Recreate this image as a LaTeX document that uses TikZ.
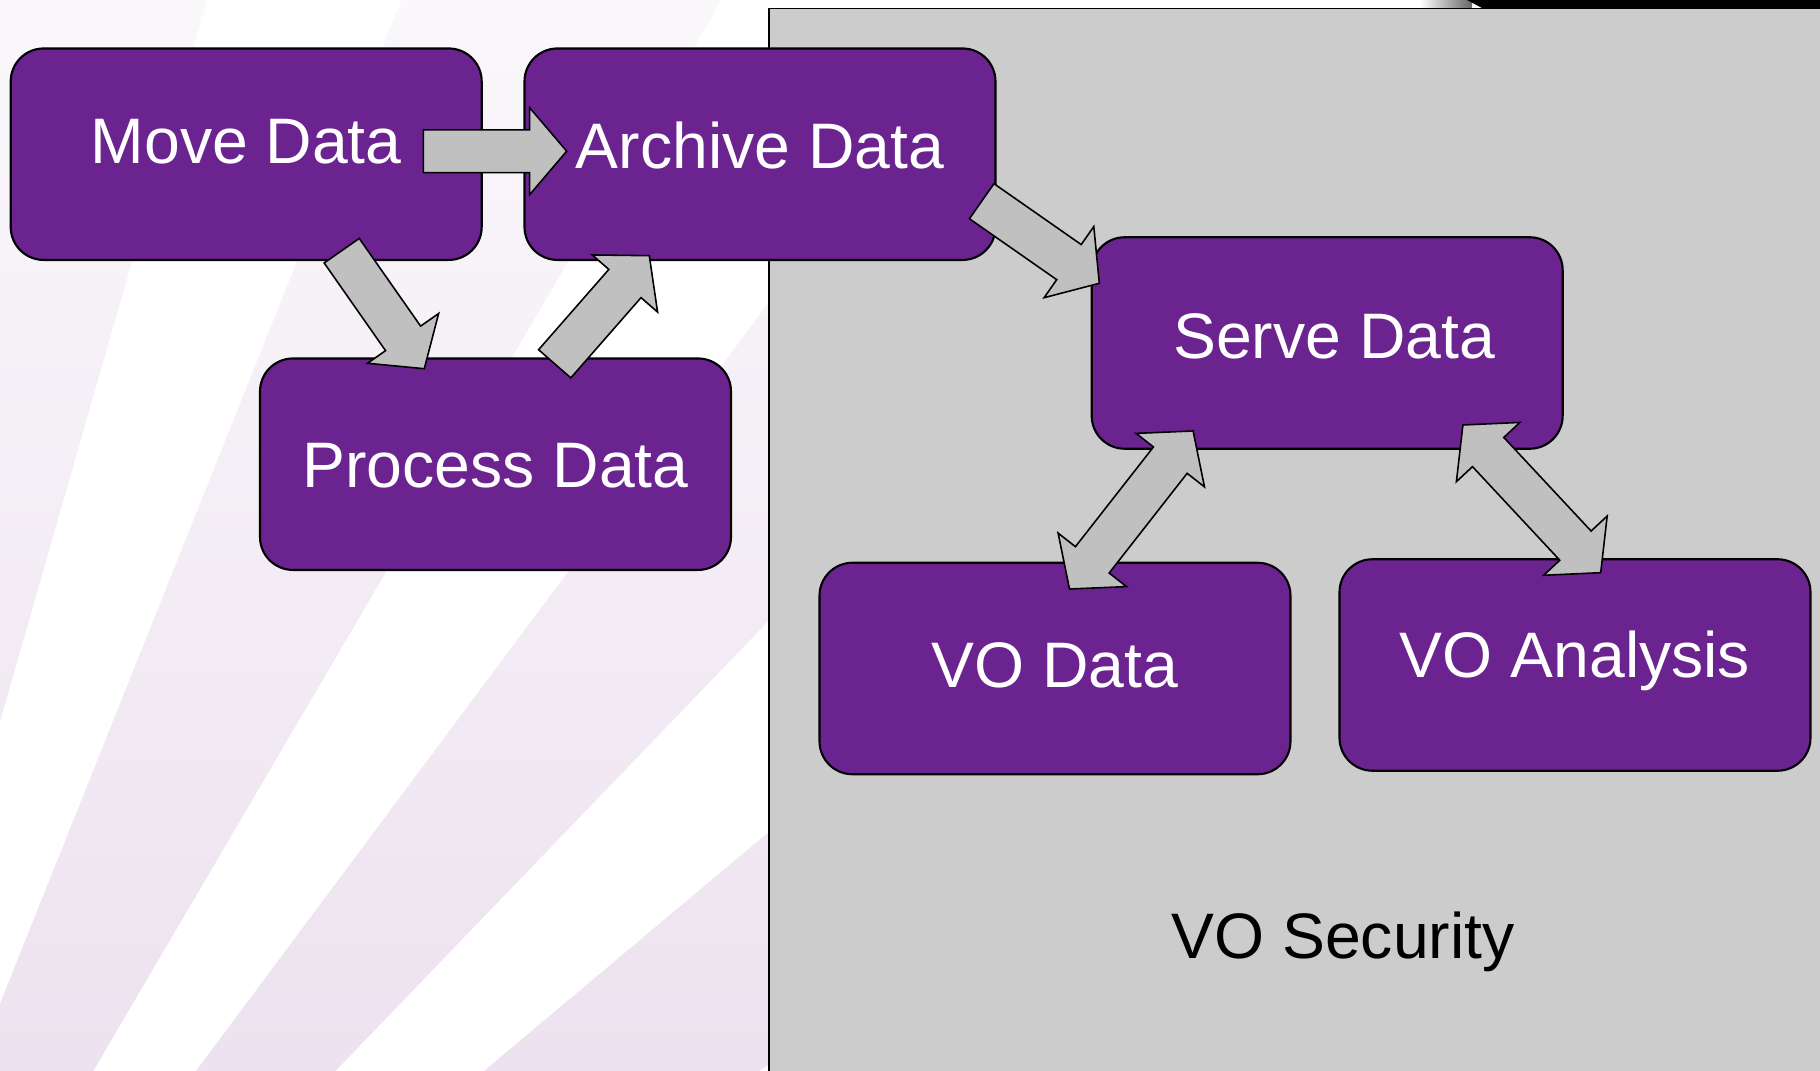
\documentclass[tikz,border=0pt]{standalone}
\usepackage{fontspec}
\setmainfont{Liberation Sans}
\usetikzlibrary{calc}

\definecolor{vopurple}{HTML}{6A238F}
\definecolor{arrgray}{HTML}{C0C0C0}
\definecolor{secgray}{HTML}{CCCCCC}
\definecolor{lavtop}{HTML}{FAF8FB}
\definecolor{lavbot}{HTML}{EDE2EF}

\newcommand{\shaftw}{0.214cm}
\newcommand{\headw}{0.434cm}
\newcommand{\headlen}{0.37cm}

% block arrow: #1 tail, #2 tip
\newcommand{\fatarrow}[2]{%
	\coordinate (hb) at ($(#2)!\headlen!(#1)$);
	\filldraw[blockarr] ($(#1)!\shaftw!90:(#2)$) -- ($(hb)!\shaftw!-90:(#1)$)
		-- ($(hb)!\headw!-90:(#1)$) -- (#2) -- ($(hb)!\headw!90:(#1)$)
		-- ($(hb)!\shaftw!90:(#1)$) -- ($(#1)!\shaftw!-90:(#2)$) -- cycle;
}
% block arrow with two heads
\newcommand{\dblarrow}[2]{%
	\coordinate (ha) at ($(#1)!\headlen!(#2)$);
	\coordinate (hb) at ($(#2)!\headlen!(#1)$);
	\filldraw[blockarr] (#1) -- ($(ha)!\headw!90:(#2)$) -- ($(ha)!\shaftw!90:(#2)$)
		-- ($(hb)!\shaftw!-90:(#1)$) -- ($(hb)!\headw!-90:(#1)$) -- (#2)
		-- ($(hb)!\headw!90:(#1)$) -- ($(hb)!\shaftw!90:(#1)$)
		-- ($(ha)!\shaftw!-90:(#2)$) -- ($(ha)!\headw!-90:(#2)$) -- cycle;
}

\tikzset{
	box/.style={draw=black, line width=0.6pt, fill=vopurple, rounded corners=0.33cm,
		minimum width=4.71cm, minimum height=2.115cm, inner sep=0pt, text=white,
		font=\fontsize{18.3}{22}\selectfont, text height=0.46cm, text depth=0pt},
	blockarr/.style={draw=black, line width=0.45pt, fill=arrgray},
	sec/.style={font=\fontsize{18.3}{22}\selectfont, text=black, anchor=base}
}

\begin{document}
\begin{tikzpicture}
		\useasboundingbox (0,0) rectangle (18.2,-10.71);
		
		% slide background
		\begin{scope}
			\clip (0,0) rectangle (7.7,-10.71);
			\shade[top color=lavtop, bottom color=lavbot] (0,0) rectangle (7.7,-10.71);
			\coordinate (ray) at (-2.85,-17.16);
			\foreach \a/\b in {68.2/74.0, 53.3/59.6, 40.0/46.1, 25.0/31.7}
				\fill[white] (ray) -- +(\a:30) -- +(\b:30) -- cycle;
		\end{scope}
		\shade[left color=white, right color=black!60] (14.2,0) rectangle (14.72,-0.075);
		\fill[black] (14.67,0) -- (18.2,0) -- (18.2,-0.085) -- (14.83,-0.085) -- cycle;
		\filldraw[fill=secgray, draw=black, line width=0.5pt] (7.69,-0.085) rectangle (18.5,-11);
		
		\node[box, text depth=2.8mm] (move) at (2.462,-1.542) {Move Data};
		\node[box, text depth=1.8mm] (archive) at (7.60,-1.542) {Archive Data};
		\node[box] (process) at (4.955,-4.642) {Process Data};
		\node[box, text depth=1.5mm] (serve) at (13.272,-3.43) {\hspace*{0.14cm}Serve Data};
		\node[box, text depth=0.9mm] (vodata) at (10.55,-6.685) {VO Data};
		\node[box, text depth=2mm] (voana) at (15.75,-6.65) {VO Analysis};
		\node[sec] (secure) at (13.43,-9.583) {VO Security};
		
		\coordinate (mv-out) at (4.233,-1.512);
		\coordinate (ar-in) at (5.667,-1.512);
		\coordinate (mv-down) at (3.417,-2.507);
		\coordinate (pr-in) at (4.243,-3.687);
		\coordinate (pr-out) at (5.547,-3.638);
		\coordinate (ar-up) at (6.493,-2.557);
		\coordinate (ar-out) at (9.817,-2.012);
		\coordinate (sv-in) at (10.993,-2.833);
		\coordinate (vd-end) at (10.695,-5.89);
		\coordinate (sv-left) at (11.931,-4.31);
		\coordinate (sv-right) at (14.629,-4.25);
		\coordinate (va-end) at (16.007,-5.727);
		
		\fatarrow{mv-out}{ar-in}
		\fatarrow{mv-down}{pr-in}
		\fatarrow{pr-out}{ar-up}
		\fatarrow{ar-out}{sv-in}
		\dblarrow{vd-end}{sv-left}
		\dblarrow{sv-right}{va-end}
		
	\end{tikzpicture}
\end{document}
